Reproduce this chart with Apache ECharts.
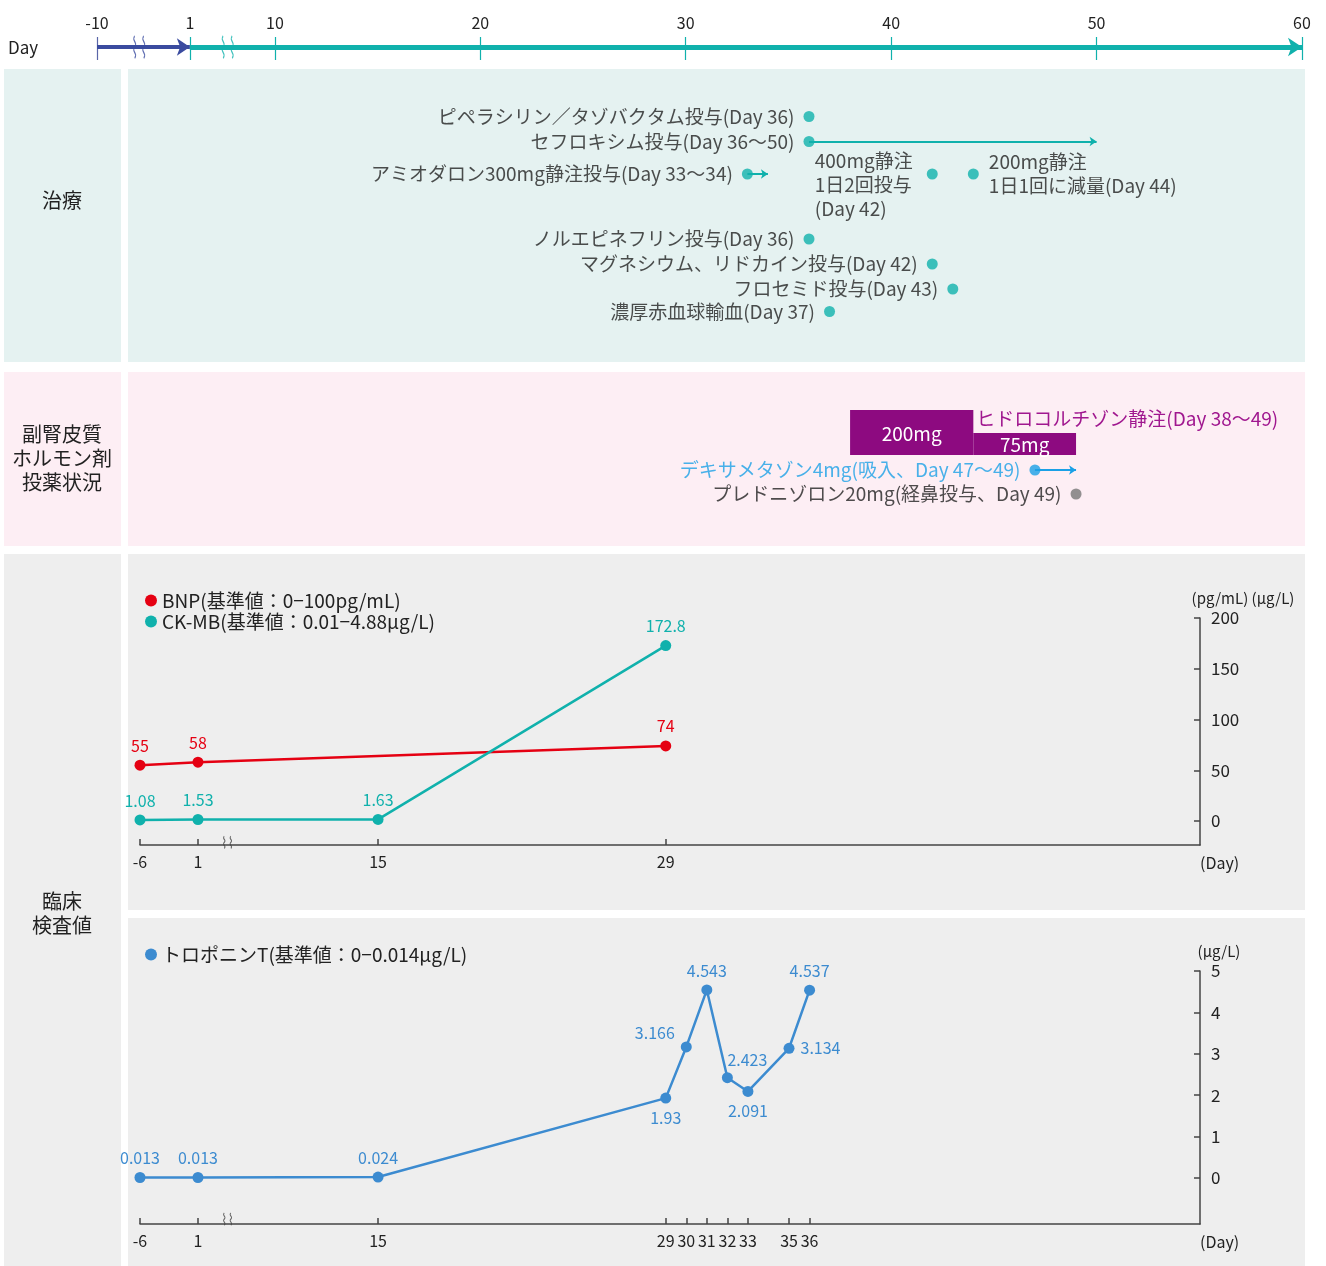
<!DOCTYPE html>
<html>
<head>
<meta charset="utf-8">
<script src="https://cdn.jsdelivr.net/npm/echarts@6/dist/echarts.min.js"></script>
<style>
  html, body { margin: 0; padding: 0; background: #fff; }
  #chart { width: 1326px; height: 1266px; }
</style>
</head>
<body>
<div id="chart"></div>
<script>
// ---- data ----
const timelineTicks = [-10, 1, 10, 20, 30, 40, 50, 60]

const treatNames = [
  'ピペラシリン／タゾバクタム投与(Day 36)',
  'セフロキシム投与(Day 36〜50)',
  'アミオダロン300mg静注投与(Day 33〜34)',
  '400mg静注\n1日2回投与\n(Day 42)',
  '200mg静注\n1日1回に減量(Day 44)',
  'ノルエピネフリン投与(Day 36)',
  'マグネシウム、リドカイン投与(Day 42)',
  'フロセミド投与(Day 43)',
  '濃厚赤血球輸血(Day 37)'
]
const treatStart = [36, 36, 33, 42, 44, 36, 42, 43, 37]
const treatEnd = [null, 50, 34, null, null, null, null, null, null]

const hcDose = [200, 75]
const hcStart = [38, 44]
const hcEnd = [44, 49]
const hcLabel = 'ヒドロコルチゾン静注(Day 38〜49)'

const steroidNames = ['デキサメタゾン4mg(吸入、Day 47〜49)', 'プレドニゾロン20mg(経鼻投与、Day 49)']
const steroidStart = [47, 49]
const steroidEnd = [49, null]

const bnpName = 'BNP(基準値：0−100pg/mL)'
const bnpDays = [-6, 1, 29]
const bnpValues = [55, 58, 74]
const ckmbName = 'CK-MB(基準値：0.01−4.88μg/L)'
const ckmbDays = [-6, 1, 15, 29]
const ckmbValues = [1.08, 1.53, 1.63, 172.8]
const tropName = 'トロポニンT(基準値：0−0.014μg/L)'
const tropDays = [-6, 1, 15, 29, 30, 31, 32, 33, 35, 36]
const tropValues = [0.013, 0.013, 0.024, 1.93, 3.166, 4.543, 2.423, 2.091, 3.134, 4.537]

const labTicksA = [-6, 1, 15, 29]
const labTicksB = [-6, 1, 15, 29, 30, 31, 32, 33, 35, 36]
const yTicksA = [0, 50, 100, 150, 200]
const yTicksB = [0, 1, 2, 3, 4, 5]

// ---- layout / style ----
const FONT = '"Noto Sans CJK JP", "Noto Sans", sans-serif'
const TEAL = '#10b1ac'
const NAVY = '#3a4b9f'
const RED = '#e50012'
const BLUE = '#3c8bd0'
const PURPLE = '#8d0a80'
const PURPLE_TXT = '#a0178f'
const DEX = '#1aa0e6'
const GREY_DOT = '#777777'
const AXIS = '#444444'
const ARROW_Y = 0.565 // height of the timeline arrows inside the timeline grid

// lanes of the treatment panel (row units)
const treatLane = [0, 1, 2.3, 2.3, 2.3, 4.9, 5.9, 6.9, 7.8]
const treatSide = ['left', 'left', 'left', 'block', 'right', 'left', 'left', 'left', 'left']
const tropLabel = [
  { position: 'top' }, { position: 'top' }, { position: 'top' }, { position: 'bottom' },
  { position: 'left', offset: [0, -14] }, { position: 'top' }, { position: 'top', offset: [20, 2] },
  { position: 'bottom' }, { position: 'right' }, { position: 'top' }
]

// broken axes: days left of `full` are squeezed segment by segment
function makeWarp(full, segs) {
  return function(d) {
    if (d >= full) return d
    let u = full
    let hi = full
    for (const [lo, f] of segs) {
      if (d >= lo) return u - (hi - d) * f
      u -= (hi - lo) * f
      hi = lo
    }
    return u - (hi - d) * segs[segs.length - 1][1]
  }
}
const tw = makeWarp(10, [[1, 0.46], [-10, 0.411]]) // top timeline
const lw = makeWarp(15, [[1, 0.626], [-6, 0.403]]) // lab charts

function backLabel(ticks, warp) {
  return v => {
    let best = ticks[0]
    for (const t of ticks) {
      if (Math.abs(warp(t) - v) < Math.abs(warp(best) - v)) best = t
    }
    return String(best)
  }
}

const breakPath = 'path://M3,0 C0,6 6,8 3,14 C0,20 6,22 3,28 M11,0 C8,6 14,8 11,14 C8,20 14,22 11,28'

// ---- chart ----
const chart = echarts.init(document.getElementById('chart'))

const txt = { fontFamily: FONT, fontSize: 19, color: '#222' }

const treatData = treatNames.map((name, i) => {
  const item = { name, value: [tw(treatStart[i]), treatLane[i]] }
  if (treatSide[i] === 'block') {
    item.label = {
      position: 'left', distance: 8, offset: [0, 11],
      formatter: p => p.name.split('\n').map(s => '{a|' + s + '}').join('\n'),
      rich: { a: { width: 104, align: 'left', fontSize: 19, lineHeight: 24, fontFamily: FONT, color: '#222' }}
    }
  } else if (treatSide[i] === 'right') {
    item.label = { position: 'right', distance: 10, lineHeight: 24 }
  }
  return item
})
const treatArrows = []
treatNames.forEach((n, i) => {
  if (treatEnd[i] != null) {
    treatArrows.push({ coords: [[tw(treatStart[i]), treatLane[i]], [tw(treatEnd[i]), treatLane[i]]] })
  }
})

const labLine = (name, days, values, color, axisIdx, labels) => ({
  name,
  type: 'line',
  xAxisIndex: axisIdx,
  yAxisIndex: axisIdx,
  data: days.map((d, i) => {
    const item = { value: [lw(d), values[i]] }
    if (labels) item.label = labels[i]
    return item
  }),
  symbol: 'circle',
  symbolSize: 11,
  itemStyle: { color },
  lineStyle: { color, width: 2.5 },
  label: { show: true, position: 'top', distance: 6, color, fontSize: 16, fontFamily: FONT, formatter: p => String(p.value[1]) },
  z: 5
})

const labX = (grid, ticks) => ({
  gridIndex: grid, type: 'value', min: lw(-6), max: 55,
  axisLine: { onZero: false, lineStyle: { color: AXIS, width: 1.5 }},
  axisTick: { inside: true, length: 6, customValues: ticks.map(lw), lineStyle: { color: AXIS, width: 1.5 }},
  axisLabel: { customValues: ticks.map(lw), formatter: backLabel(ticks, lw), margin: 9, fontSize: 16, color: '#222', fontFamily: FONT },
  splitLine: { show: false },
  name: '(Day)', nameLocation: 'end', nameGap: 0,
  nameTextStyle: { verticalAlign: 'top', padding: [10, 0, 0, 0], fontSize: 16, color: '#222', fontFamily: FONT }
})
const labY = (grid, min, max, ticks, name, pad) => ({
  gridIndex: grid, type: 'value', position: 'right', min, max,
  axisLine: { show: true, onZero: false, lineStyle: { color: AXIS, width: 1.5 }},
  axisTick: { show: true, inside: true, length: 6, customValues: ticks, lineStyle: { color: AXIS, width: 1.5 }},
  axisLabel: { customValues: ticks, margin: 11, fontSize: 17, color: '#222', fontFamily: FONT },
  splitLine: { show: false },
  name, nameLocation: 'end', nameGap: 12,
  nameTextStyle: { fontSize: 15, color: '#222', fontFamily: FONT, align: 'center', padding: [0, 0, 0, pad] }
})
const hidden = (grid, min, max, inverse) => ({ gridIndex: grid, type: 'value', min, max, inverse: !!inverse, show: false })

const bg = (x, y, w, h, fill) => ({ type: 'rect', z: -10, shape: { x, y, width: w, height: h }, style: { fill }})
const sideText = (y, text) => ({
  type: 'text', z: 10,
  style: { x: 62, y, text, align: 'center', verticalAlign: 'middle', fontSize: 20, lineHeight: 24, fontFamily: FONT, fill: '#222' }
})

chart.setOption({
  animation: false,
  textStyle: { fontFamily: FONT },
  graphic: [
    bg(4, 69, 117, 293, '#e5f2f1'),
    bg(128, 69, 1177, 293, '#e5f2f1'),
    bg(4, 372, 117, 174, '#fdeef4'),
    bg(128, 372, 1177, 174, '#fdeef4'),
    bg(4, 554, 117, 712, '#eeeeee'),
    bg(128, 554, 1177, 356, '#eeeeee'),
    bg(128, 918, 1177, 348, '#eeeeee'),
    { type: 'text', z: 10, style: { x: 8, y: 48, text: 'Day', verticalAlign: 'middle', fontSize: 17, fontFamily: FONT, fill: '#222' }},
    sideText(200, '治療'),
    sideText(458, '副腎皮質\nホルモン剤\n投薬状況'),
    sideText(913, '臨床\n検査値')
  ],
  legend: [
    {
      data: [bnpName, ckmbName], left: 140, top: 586, orient: 'vertical', icon: 'circle',
      itemWidth: 12, itemHeight: 12, itemGap: 2, selectedMode: false,
      textStyle: { fontSize: 19, color: '#222', fontFamily: FONT }
    },
    {
      data: [tropName], left: 140, top: 940, orient: 'vertical', icon: 'circle',
      itemWidth: 12, itemHeight: 12, selectedMode: false,
      textStyle: { fontSize: 19, color: '#222', fontFamily: FONT }
    }
  ],
  grid: [
    { left: 97, right: 24, top: 37, height: 23 }, // timeline
    { left: 97, right: 24, top: 104, height: 225 }, // treatment
    { left: 97, right: 24, top: 410, height: 45 }, // hydrocortisone
    { left: 97, right: 24, top: 458, height: 48 }, // other steroids
    { left: 140, right: 126, top: 618, height: 227 }, // BNP / CK-MB
    { left: 140, right: 126, top: 971, height: 253 } // troponin T
  ],
  xAxis: [
    {
      gridIndex: 0, type: 'value', position: 'top', min: tw(-10), max: 60,
      axisLine: { show: false }, splitLine: { show: false }, axisTick: { show: false },
      axisLabel: { customValues: timelineTicks.map(tw), formatter: backLabel(timelineTicks, tw), margin: 6, fontSize: 16, color: '#222', fontFamily: FONT, showMinLabel: true, showMaxLabel: true }
    },
    hidden(1, tw(-10), 60),
    hidden(2, tw(-10), 60),
    hidden(3, tw(-10), 60),
    labX(4, labTicksA),
    labX(5, labTicksB)
  ],
  yAxis: [
    hidden(0, 0, 1),
    hidden(1, -0.5, 8.5, true),
    hidden(2, -45, 200),
    hidden(3, -0.5, 1.5, true),
    labY(4, -23.6, 200, yTicksA, '(pg/mL) (μg/L)', 86),
    labY(5, -1.11, 5, yTicksB, '(μg/L)', 38)
  ],
  series: [
    // timeline: tick marks across the arrows, arrows, break marks
    {
      type: 'lines', coordinateSystem: 'cartesian2d', xAxisIndex: 0, yAxisIndex: 0, silent: true,
      lineStyle: { color: TEAL, width: 1.2, opacity: 1 },
      data: timelineTicks.map(d => ({
        coords: [[tw(d), 0], [tw(d), 1]],
        lineStyle: d < 1 ? { color: '#5a66a8' } : undefined
      }))
    },
    {
      type: 'lines', coordinateSystem: 'cartesian2d', xAxisIndex: 0, yAxisIndex: 0,
      symbol: ['none', 'arrow'], symbolSize: 13, silent: true,
      lineStyle: { color: NAVY, width: 4, opacity: 1 },
      data: [{ coords: [[tw(-10), ARROW_Y], [tw(1), ARROW_Y]] }]
    },
    {
      type: 'lines', coordinateSystem: 'cartesian2d', xAxisIndex: 0, yAxisIndex: 0,
      symbol: ['none', 'arrow'], symbolSize: 14, silent: true,
      lineStyle: { color: TEAL, width: 5, opacity: 1 },
      data: [{ coords: [[tw(1), ARROW_Y], [60, ARROW_Y]] }]
    },
    {
      type: 'scatter', xAxisIndex: 0, yAxisIndex: 0, symbol: breakPath, symbolSize: [11, 22], silent: true,
      data: [{ value: [tw(-5), ARROW_Y], itemStyle: { borderColor: NAVY }}, { value: [tw(5), ARROW_Y], itemStyle: { borderColor: TEAL }}],
      itemStyle: { color: 'none', borderWidth: 1.5 }, z: 6
    },
    // treatment
    {
      type: 'lines', coordinateSystem: 'cartesian2d', xAxisIndex: 1, yAxisIndex: 1,
      symbol: ['none', 'arrow'], symbolSize: 7, silent: true,
      lineStyle: { color: TEAL, width: 2, opacity: 1 },
      data: treatArrows
    },
    {
      type: 'scatter', xAxisIndex: 1, yAxisIndex: 1, symbolSize: 11,
      itemStyle: { color: TEAL },
      label: { show: true, position: 'left', distance: 9, formatter: '{b}', ...txt },
      data: treatData, z: 5
    },
    // hydrocortisone bars
    {
      type: 'custom', xAxisIndex: 2, yAxisIndex: 2,
      data: hcDose.map((d, i) => [tw(hcStart[i]), tw(hcEnd[i]), d]),
      encode: { x: [0, 1], y: 2 },
      renderItem: (params, api) => {
        const p0 = api.coord([api.value(0), api.value(2)])
        const p1 = api.coord([api.value(1), -45])
        const children = [
          { type: 'rect', shape: { x: p0[0], y: p0[1], width: p1[0] - p0[0], height: p1[1] - p0[1] }, style: { fill: PURPLE }},
          { type: 'text', style: { x: (p0[0] + p1[0]) / 2, y: (p0[1] + p1[1]) / 2 + 1, text: api.value(2) + 'mg', fill: '#fff', fontSize: 19, fontFamily: FONT, align: 'center', verticalAlign: 'middle' }}
        ]
        if (params.dataIndex === hcDose.length - 1) {
          children.push({ type: 'text', style: { x: p0[0] + 3, y: p0[1] - 5, text: hcLabel, fill: PURPLE_TXT, fontSize: 19, fontFamily: FONT, align: 'left', verticalAlign: 'bottom' }})
        }
        return { type: 'group', children }
      }
    },
    // other steroids
    {
      type: 'lines', coordinateSystem: 'cartesian2d', xAxisIndex: 3, yAxisIndex: 3,
      symbol: ['none', 'arrow'], symbolSize: 7, silent: true,
      lineStyle: { color: DEX, width: 2, opacity: 1 },
      data: steroidNames.map((n, i) => steroidEnd[i] == null ? null : { coords: [[tw(steroidStart[i]), i], [tw(steroidEnd[i]), i]] }).filter(Boolean)
    },
    {
      type: 'scatter', xAxisIndex: 3, yAxisIndex: 3, symbolSize: 11, z: 5,
      label: { show: true, position: 'left', distance: 9, formatter: '{b}', ...txt },
      data: steroidNames.map((name, i) => ({
        name, value: [tw(steroidStart[i]), i],
        itemStyle: { color: i === 0 ? DEX : GREY_DOT },
        label: { color: i === 0 ? DEX : '#222' }
      }))
    },
    // lab charts
    labLine(bnpName, bnpDays, bnpValues, RED, 4),
    labLine(ckmbName, ckmbDays, ckmbValues, TEAL, 4),
    labLine(tropName, tropDays, tropValues, BLUE, 5, tropLabel),
    {
      type: 'scatter', xAxisIndex: 4, yAxisIndex: 4, symbol: breakPath, symbolSize: [8, 12], silent: true,
      data: [[lw(3.3), -21]], itemStyle: { color: 'none', borderColor: AXIS, borderWidth: 1.2 }
    },
    {
      type: 'scatter', xAxisIndex: 5, yAxisIndex: 5, symbol: breakPath, symbolSize: [8, 12], silent: true,
      data: [[lw(3.3), -0.99]], itemStyle: { color: 'none', borderColor: AXIS, borderWidth: 1.2 }
    }
  ]
})
</script>
</body>
</html>
